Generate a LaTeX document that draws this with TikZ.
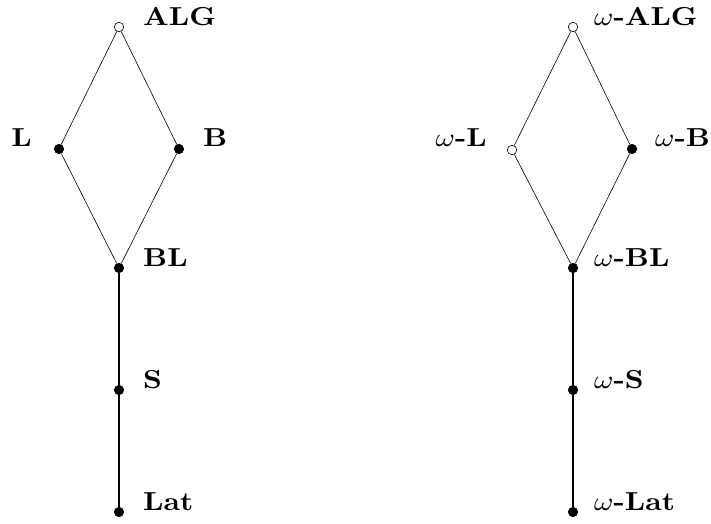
\documentclass[tikz,border=0pt]{standalone}
\newcommand{\biglab}[1]{\scalebox{2.95}[2.6]{#1}}
\begin{document}
\begin{tikzpicture}[x=1pt,y=1pt,
  full/.style={circle,fill=black,draw=black,line width=0.6pt,inner sep=0pt,minimum size=9.5pt},
  hollow/.style={circle,fill=white,draw=black,line width=0.6pt,inner sep=0pt,minimum size=9.5pt},
  thinedge/.style={line width=0.6pt},
  thickedge/.style={line width=1.8pt},
  lab/.style={font=\fontsize{10}{12}\selectfont\bfseries,inner sep=0pt}]
\useasboundingbox (0,0) rectangle (711,523);

% lattice of classes
\node[hollow] (alg) at (119,496) {};
\node[full] (l) at (59,374) {};
\node[full] (b) at (179,374) {};
\node[full] (bl) at (119,255) {};
\node[full] (s) at (119,133) {};
\node[full] (lat) at (119,11) {};

\draw[thinedge] (alg) -- (l);
\draw[thinedge] (alg) -- (b);
\draw[thinedge] (l) -- (bl);
\draw[thinedge] (b) -- (bl);
\draw[thickedge] (bl) -- (s);
\draw[thickedge] (s) -- (lat);

\node[lab,anchor=base west] (talg) at (143,497) {\biglab{ALG}};
\node[lab,anchor=base east] (tl) at (32,376) {\biglab{L}};
\node[lab,anchor=base west] (tb) at (203,376) {\biglab{B}};
\node[lab,anchor=base west] (tbl) at (143,257) {\biglab{BL}};
\node[lab,anchor=base west] (ts) at (143,135) {\biglab{S}};
\node[lab,anchor=base west] (tlat) at (143,13) {\biglab{Lat}};

% omega versions
\node[hollow] (walg) at (573,496) {};
\node[hollow] (wl) at (512,373) {};
\node[full] (wb) at (632,374) {};
\node[full] (wbl) at (573,255) {};
\node[full] (ws) at (573,133) {};
\node[full] (wlat) at (573,11) {};

\draw[thinedge] (walg) -- (wl);
\draw[thinedge] (walg) -- (wb);
\draw[thinedge] (wl) -- (wbl);
\draw[thinedge] (wb) -- (wbl);
\draw[thickedge] (wbl) -- (ws);
\draw[thickedge] (ws) -- (wlat);

\node[lab,anchor=base west] (twalg) at (594,497) {\biglab{$\omega$-ALG}};
\node[lab,anchor=base east] (twl) at (487,376) {\biglab{$\omega$-L}};
\node[lab,anchor=base west] (twb) at (655,376) {\biglab{$\omega$-B}};
\node[lab,anchor=base west] (twbl) at (594,257) {\biglab{$\omega$-BL}};
\node[lab,anchor=base west] (tws) at (594,135) {\biglab{$\omega$-S}};
\node[lab,anchor=base west] (twlat) at (594,13) {\biglab{$\omega$-Lat}};
\end{tikzpicture}
\end{document}
